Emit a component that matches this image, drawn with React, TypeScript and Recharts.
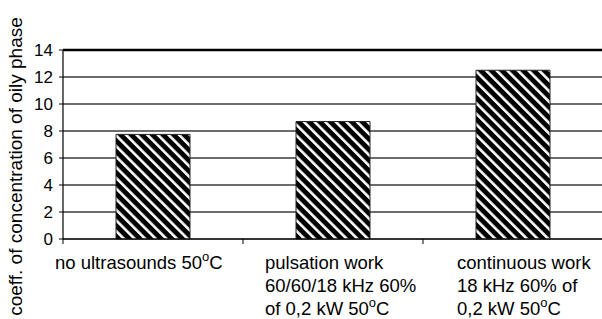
import { BarChart, Bar, XAxis, YAxis, CartesianGrid, ReferenceLine } from 'recharts';

const categories = ['no ultrasounds', 'pulsation work', 'continuous work'];
const labelLines = [
  ['no ultrasounds 50°C'],
  ['pulsation work', '60/60/18 kHz 60%', 'of 0,2 kW 50°C'],
  ['continuous work', '18 kHz 60% of', '0,2 kW 50°C'],
];
const oilyPhase = [7.75, 8.7, 12.5];
const yTicks = [0, 2, 4, 6, 8, 10, 12, 14];

const data = categories.map((c, i) => ({ name: c, value: oilyPhase[i] }));

const FONT = '"Liberation Sans", Arial, sans-serif';

// text blocks are left aligned, shifted from the category centre
const labelDx = [-98, -68, -56];

const renderLine = (line: string, key: number, x: number, dy: number) => {
  const parts = line.split('°');
  if (parts.length === 1) {
    return (
      <tspan key={key} x={x} dy={dy}>
        {line}
      </tspan>
    );
  }
  return [
    <tspan key={key + '-a'} x={x} dy={dy}>
      {parts[0]}
    </tspan>,
    <tspan key={key + '-b'} fontSize={13} dy={-8}>
      o
    </tspan>,
    <tspan key={key + '-c'} dy={8}>
      {parts[1]}
    </tspan>,
  ];
};

const CategoryTick = (props: any) => {
  const { x, y, payload, index, width } = props;
  const lines = labelLines[index] || [payload.value];
  const band = width / categories.length;
  const sx = x + labelDx[index];
  return (
    <g>
      {index < categories.length - 1 && (
        <line x1={x + band / 2} x2={x + band / 2} y1={239} y2={244} stroke="#000" strokeWidth={1} />
      )}
      {index === 0 && <line x1={x - band / 2} x2={x - band / 2} y1={239} y2={244} stroke="#000" strokeWidth={1} />}
      <text x={sx} y={y} fontFamily={FONT} fontSize={18.5} fill="#000">
        {lines.map((l, i) => renderLine(l, i, sx, i === 0 ? 22 : 23))}
      </text>
    </g>
  );
};

const YLabel = (props: any) => {
  const { viewBox } = props;
  const cy = viewBox.y + viewBox.height / 2 + 22;
  return (
    <text
      x={15}
      y={cy}
      transform={`rotate(-90, 15, ${cy})`}
      textAnchor="middle"
      dominantBaseline="central"
      fontFamily={FONT}
      fontSize={19}
      fill="#000"
    >
      coeff. of concentration of oily phase
    </text>
  );
};

export default function App() {
  return (
    <div style={{ position: 'absolute', left: 0, top: 0, width: 602, height: 319, background: '#fff' }}>
      <BarChart
        width={602}
        height={319}
        data={data}
        margin={{ top: 50, right: -1, bottom: 0, left: 0 }}
        barSize={74}
      >
        <defs>
          <pattern
            id="hatchIn"
            patternUnits="userSpaceOnUse"
            width={7.5}
            height={7.5}
            patternTransform="rotate(-45)"
          >
            <rect x={0} y={0} width={7.5} height={7.5} fill="#000" />
            <rect x={0} y={0} width={2.6} height={7.5} fill="#fff" />
          </pattern>
        </defs>
        <CartesianGrid vertical={false} stroke="#3a3a3a" strokeWidth={1.5} />
        <XAxis
          dataKey="name"
          height={80}
          tickLine={false}
          axisLine={{ stroke: '#000', strokeWidth: 1.2 }}
          tick={<CategoryTick />}
          interval={0}
        />
        <YAxis
          width={63}
          domain={[0, 14]}
          ticks={yTicks}
          interval={0}
          tickSize={4}
          tickMargin={6}
          tickLine={{ stroke: '#000' }}
          axisLine={{ stroke: '#000', strokeWidth: 1.2 }}
          tick={{ fill: '#000', fontSize: 17, fontFamily: FONT }}
          label={<YLabel />}
        />
        <ReferenceLine y={14} stroke="#000" strokeWidth={2.5} />
        <Bar dataKey="value" fill="url(#hatchIn)" stroke="#222" strokeWidth={1} isAnimationActive={false} />
      </BarChart>
    </div>
  );
}
